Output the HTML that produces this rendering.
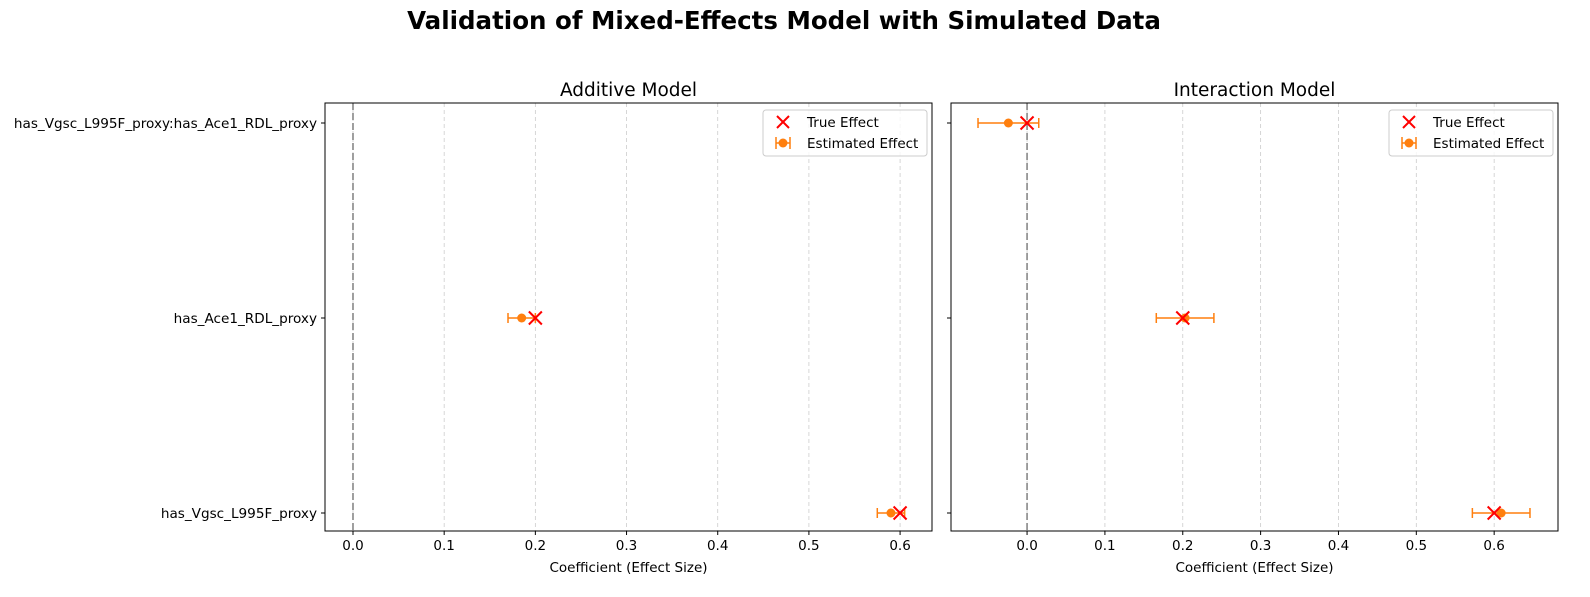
<!DOCTYPE html>
<html><head><meta charset="utf-8"><style>
body{margin:0;background:#fff;}
svg text{font-family:"DejaVu Sans","Liberation Sans",sans-serif;}
</style></head><body>
<svg id="c" width="1590" height="592" xmlns="http://www.w3.org/2000/svg"></svg>
<script>
const categories = ["has_Vgsc_L995F_proxy","has_Ace1_RDL_proxy","has_Vgsc_L995F_proxy:has_Ace1_RDL_proxy"];
const trueAdd = [0.6, 0.2];
const estAdd = [0.590, 0.185];
const errAdd = [0.015, 0.015];
const trueInt = [0.6, 0.2, 0.0];
const estInt = [0.609, 0.203, -0.024];
const errInt = [0.037, 0.037, 0.039];
const ticksAdd = [0,0.1,0.2,0.3,0.4,0.5,0.6];
const ticksInt = [0,0.1,0.2,0.3,0.4,0.5,0.6];

const NS="http://www.w3.org/2000/svg";
const svgEl=document.getElementById('c');
function mk(tag,attrs,parent){const e=document.createElementNS(NS,tag);for(const k in attrs)e.setAttribute(k,attrs[k]);(parent||svgEl).appendChild(e);return e;}
const yTop=103,yBot=531;
function yPos(i){return 513-i*195;}

const title=mk('text',{x:784,y:29,'text-anchor':'middle','font-size':24.5,'font-weight':'bold'});
title.textContent="Validation of Mixed-Effects Model with Simulated Data";



function panel(name,x0,x1,xmin,xmax,ticks,tv,ev,er,showY,legX){
  const g=mk('g',{});
  
  
  const X=v=>x0+(v-xmin)/(xmax-xmin)*(x1-x0);
  ticks.forEach(t=>{
    const gl=mk('line',{x1:X(t),x2:X(t),y1:yTop,y2:yBot,stroke:'#ccc','stroke-dasharray':'4,3','stroke-width':0.8},g);
    
    
    mk('line',{x1:X(t),x2:X(t),y1:yBot,y2:yBot+4,stroke:'#000'},g);
    const tl=mk('text',{x:X(t),y:yBot+19,'text-anchor':'middle','font-size':13.5},g);
    tl.textContent=t.toFixed(1);
    
    
  });
  mk('line',{x1:X(0),x2:X(0),y1:yTop,y2:yBot,stroke:'#808080','stroke-dasharray':'7,3','stroke-width':1.5},g);
  categories.forEach((c,i)=>{
    mk('line',{x1:x0-4,x2:x0,y1:yPos(i),y2:yPos(i),stroke:'#000'},g);
    if(showY){const t=mk('text',{x:x0-8,y:yPos(i)+5,'text-anchor':'end','font-size':13.6},g);t.textContent=c;
      
      }
  });
  ev.forEach((v,i)=>{
    const y=yPos(i),a=X(v-er[i]),b=X(v+er[i]);
    mk('line',{x1:a,x2:b,y1:y,y2:y,stroke:'#ff7f0e','stroke-width':1.5},g);
    mk('line',{x1:a,x2:a,y1:y-5,y2:y+5,stroke:'#ff7f0e','stroke-width':1.5},g);
    mk('line',{x1:b,x2:b,y1:y-5,y2:y+5,stroke:'#ff7f0e','stroke-width':1.5},g);
    const p=mk('circle',{cx:X(v),cy:y,r:4.5,fill:'#ff7f0e'},g);
    
    
  });
  tv.forEach((v,i)=>{
    const x=X(v),y=yPos(i),s=6.5;
    const m=mk('path',{d:`M${x-s},${y-s}L${x+s},${y+s}M${x-s},${y+s}L${x+s},${y-s}`,stroke:'red','stroke-width':2},g);
    
    
  });
  mk('rect',{x:x0,y:yTop,width:x1-x0,height:yBot-yTop,fill:'none',stroke:'#000','stroke-width':1},g);
  const pt=mk('text',{x:(x0+x1)/2,y:96,'text-anchor':'middle','font-size':18.5},g);
  pt.textContent=name==='additive-panel'?'Additive Model':'Interaction Model';
  
  
  const xl=mk('text',{x:(x0+x1)/2,y:572,'text-anchor':'middle','font-size':13.5},g);
  xl.textContent='Coefficient (Effect Size)';
  
  
  const lg=mk('g',{},g);
  
  
  const lw=x1-5-legX;
  mk('rect',{x:legX,y:110,width:lw,height:46,rx:3,fill:'#fff','fill-opacity':0.8,stroke:'#ccc'},lg);
  const lx=legX+20;
  mk('path',{d:`M${lx-6},${116}L${lx+6},${128}M${lx-6},${128}L${lx+6},${116}`,stroke:'red','stroke-width':2},lg);
  const t1=mk('text',{x:legX+44,y:127,'font-size':13.5},lg);t1.textContent='True Effect';
  mk('line',{x1:lx-7,x2:lx+7,y1:143,y2:143,stroke:'#ff7f0e','stroke-width':1.5},lg);
  mk('line',{x1:lx-7,x2:lx-7,y1:137,y2:149,stroke:'#ff7f0e','stroke-width':1.5},lg);
  mk('line',{x1:lx+7,x2:lx+7,y1:137,y2:149,stroke:'#ff7f0e','stroke-width':1.5},lg);
  mk('circle',{cx:lx,cy:143,r:4.5,fill:'#ff7f0e'},lg);
  const t2=mk('text',{x:legX+44,y:148,'font-size':13.5},lg);t2.textContent='Estimated Effect';
}
panel('additive-panel',325,932,-0.0307,0.635,ticksAdd,trueAdd,estAdd,errAdd,true,763);
panel('interaction-panel',951,1558,-0.0977,0.682,ticksInt,trueInt,estInt,errInt,false,1389);
</script>
</body></html>
